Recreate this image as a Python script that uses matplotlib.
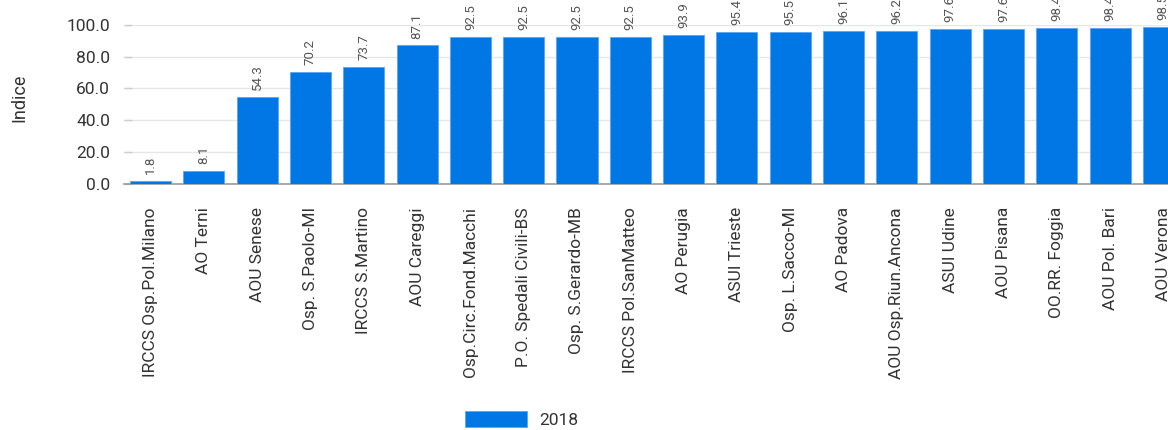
import matplotlib.pyplot as plt
import numpy as np

plt.rcParams["font.family"] = ["Roboto", "DejaVu Sans"]

hospitals = [
    "IRCCS Osp.Pol.Milano", "AO Terni", "AOU Senese", "Osp. S.Paolo-MI",
    "IRCCS S.Martino", "AOU Careggi", "Osp.Circ.Fond.Macchi",
    "P.O. Spedali Civili-BS", "Osp. S.Gerardo-MB", "IRCCS Pol.SanMatteo",
    "AO Perugia", "ASUI Trieste", "Osp. L.Sacco-MI", "AO Padova",
    "AOU Osp.Riun.Ancona", "ASUI Udine", "AOU Pisana", "OO.RR. Foggia",
    "AOU Pol. Bari", "AOU Verona",
]
values_2018 = [1.8, 8.1, 54.3, 70.2, 73.7, 87.1, 92.5, 92.5, 92.5, 92.5,
               93.9, 95.4, 95.5, 96.1, 96.2, 97.6, 97.6, 98.4, 98.4, 98.5]
yticks = [0, 20, 40, 60, 80, 100]

W, H = 1168, 430
fig = plt.figure(figsize=(W / 100, H / 100), dpi=100)
# axes runs past the right edge, the source chart is cut there
left, right, bottom, top = 123.9, 1190, 183.5, 25
ax = fig.add_axes([left / W, 1 - bottom / H, (right - left) / W, (bottom - top) / H])

x = np.arange(len(hospitals))
bars = ax.bar(x, values_2018, width=0.77, color="#0077e4",
              edgecolor="#5aa6f0", linewidth=0.6, label="2018", zorder=3)

for xi, v in zip(x, values_2018):
    ax.annotate(f"{v:.1f}", (xi, v), xytext=(0, 5), textcoords="offset points",
                rotation=90, ha="center", va="bottom", fontsize=9.5,
                color="#555555", annotation_clip=False)

ax.set_xlim(-0.5, len(hospitals) - 0.5)
ax.set_ylim(0, 100)
ax.set_yticks(yticks)
ax.set_yticklabels([f"{t:.1f}" for t in yticks], fontsize=12.5, color="#333333")
ax.tick_params(axis="y", direction="in", length=6, color="#cccccc", width=1, pad=10)
ax.yaxis.grid(True, color="#e6e6e6", linewidth=1, zorder=0)
ax.set_axisbelow(True)

ax.set_xticks(x)
ax.set_xticklabels(hospitals, rotation=90, fontsize=12.5, color="#333333")
ax.tick_params(axis="x", length=0, pad=17)

for s in ["top", "right", "left"]:
    ax.spines[s].set_visible(False)
ax.spines["bottom"].set_color("#999999")
ax.spines["bottom"].set_linewidth(1.2)

ax.set_ylabel("Indice", fontsize=13, color="#333333")
ax.yaxis.set_label_coords(-(left - 28) / (right - left), 0.54)

fig.legend(handles=[bars], labels=["2018"], loc="upper left",
           bbox_to_anchor=(456 / W, 1 - 402 / H), frameon=False,
           fontsize=12.5, handlelength=3.6, handleheight=1.1,
           handletextpad=0.7, borderpad=0, labelcolor="#333333")

fig.savefig("out.png", dpi=100)
